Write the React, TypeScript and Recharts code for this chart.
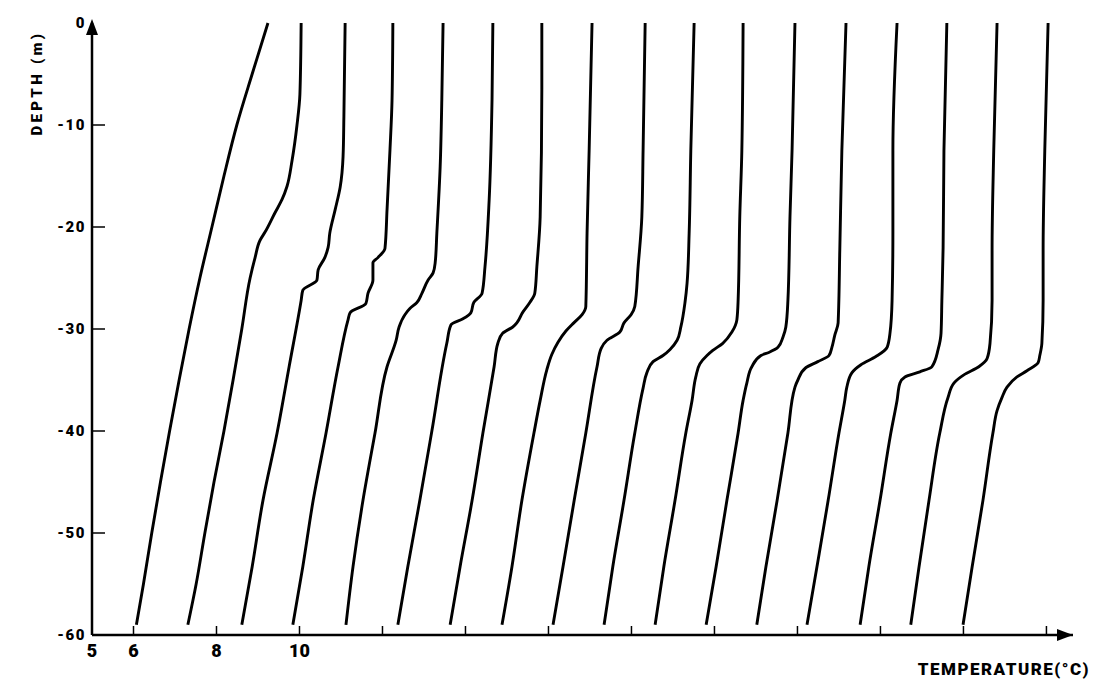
import { LineChart, Line, XAxis, YAxis, ReferenceDot } from "recharts";

// depth (m) / temperature (°C) of each profile
const d01 = [0, -5, -10, -15, -20, -25, -30, -35, -40, -45, -50, -55, -59];
const t01 = [9.24, 8.86, 8.49, 8.18, 7.89, 7.6, 7.34, 7.1, 6.87, 6.65, 6.44, 6.24, 6.07];

const d02 = [0, -7, -10, -13.5, -16, -17.3, -18.6, -20.5, -21.3, -23, -25, -30, -35, -40, -45, -50, -55, -59];
const t02 = [10.04, 10.01, 9.94, 9.82, 9.7, 9.58, 9.41, 9.17, 9.05, 8.93, 8.81, 8.61, 8.4, 8.18, 7.94, 7.72, 7.51, 7.31];

const d03 = [0, -9.2, -13.1, -16.1, -18.3, -20.6, -22, -23, -24.2, -25.2, -26.2, -27.2, -33.7, -40.2, -46.8, -53.3, -59];
const t03 = [11.1, 11.07, 11.05, 10.98, 10.86, 10.73, 10.69, 10.61, 10.45, 10.42, 10.08, 10.04, 9.75, 9.46, 9.12, 8.86, 8.61];

const d04 = [0, -7.6, -12.5, -18.3, -22.1, -23, -23.5, -25.2, -26.5, -27.5, -28.4, -29.1, -33.7, -40.2, -46.8, -53.3, -59];
const t04 = [12.25, 12.23, 12.18, 12.11, 12.06, 11.89, 11.77, 11.77, 11.65, 11.6, 11.22, 11.17, 10.93, 10.64, 10.33, 10.08, 9.84];

const d05 = [0, -7.5, -14.1, -20.6, -23.5, -24.5, -25.2, -26.5, -27.4, -28, -28.6, -29.8, -31.1, -33.7, -40.2, -46.8, -53.3, -59];
const t05 = [13.46, 13.43, 13.39, 13.31, 13.27, 13.22, 13.1, 12.95, 12.83, 12.66, 12.54, 12.4, 12.33, 12.11, 11.82, 11.53, 11.29, 11.12];

const d06 = [0, -7.5, -17.4, -23.9, -26.5, -27.4, -28.4, -29, -29.6, -31.4, -40, -46.8, -53.3, -59];
const t06 = [14.66, 14.64, 14.57, 14.47, 14.4, 14.2, 14.13, 13.94, 13.65, 13.55, 13.19, 12.9, 12.61, 12.37];

const d07 = [0, -6.5, -19, -23.9, -26.5, -27.4, -28.3, -29.8, -30.4, -31.4, -33.7, -40.2, -46.8, -53.3, -59];
const t07 = [15.84, 15.84, 15.8, 15.72, 15.67, 15.55, 15.39, 15.14, 14.9, 14.78, 14.69, 14.42, 14.16, 13.87, 13.63];

const d08 = [0, -12.5, -20.6, -27.8, -28.6, -29.4, -30.2, -31.3, -32.5, -34, -37, -40.2, -46.8, -53.3, -59];
const t08 = [17.05, 16.98, 16.93, 16.9, 16.81, 16.61, 16.42, 16.23, 16.08, 15.96, 15.8, 15.65, 15.36, 15.12, 14.88];

const d09 = [0, -12.5, -19, -23.9, -27.8, -28.6, -29.4, -30.3, -31.1, -31.9, -33.7, -40.2, -46.8, -53.3, -59];
const t09 = [18.33, 18.28, 18.25, 18.16, 18.08, 17.99, 17.82, 17.72, 17.41, 17.27, 17.17, 16.9, 16.62, 16.35, 16.11];

const d10 = [0, -12.5, -20.6, -25.5, -27.4, -29.8, -31.1, -32, -32.6, -33.2, -34.3, -35.8, -40.2, -46.8, -53.3, -59];
const t10 = [19.51, 19.43, 19.39, 19.34, 19.29, 19.19, 19.1, 18.93, 18.76, 18.52, 18.37, 18.28, 18.08, 17.82, 17.55, 17.34];

const d11 = [0, -12.5, -19, -27.2, -29.1, -30.3, -31.4, -32.1, -32.6, -33.4, -34.7, -37, -40.2, -46.8, -53.3, -59];
const t11 = [20.69, 20.66, 20.61, 20.57, 20.54, 20.42, 20.2, 19.96, 19.82, 19.65, 19.55, 19.46, 19.31, 19.05, 18.78, 18.57];

const d12 = [0, -12.5, -19, -27.2, -29.8, -30.8, -31.8, -32.3, -32.6, -33.7, -35.3, -37, -40.2, -46.8, -53.3, -59];
const t12 = [21.94, 21.87, 21.82, 21.77, 21.72, 21.65, 21.53, 21.31, 21.12, 20.9, 20.78, 20.69, 20.57, 20.3, 20.04, 19.8];

const d13 = [0, -12.5, -22.3, -29.4, -30.6, -31.8, -32.6, -33.2, -33.8, -35, -35.7, -40.2, -46.8, -53.3, -59];
const t13 = [23.17, 23.07, 23.02, 22.98, 22.9, 22.83, 22.76, 22.49, 22.2, 22.01, 21.94, 21.77, 21.51, 21.24, 21.02];

const d14 = [0, -12.5, -20.6, -27.2, -30.4, -31.8, -32.7, -33.5, -34.3, -35.7, -37, -40.2, -46.8, -53.3, -59];
const t14 = [24.4, 24.3, 24.3, 24.28, 24.23, 24.16, 23.89, 23.53, 23.31, 23.19, 23.14, 23.0, 22.74, 22.47, 22.23];

const d15 = [0, -12.5, -22, -27.2, -30.4, -32, -33.7, -34.2, -34.7, -35.3, -37, -40.2, -46.8, -53.3, -59];
const t15 = [25.6, 25.53, 25.51, 25.48, 25.46, 25.39, 25.24, 24.95, 24.59, 24.47, 24.4, 24.25, 23.99, 23.72, 23.51];

const d16 = [0, -12.5, -22.3, -27.2, -31.4, -32.9, -33.7, -34.5, -35.3, -36.7, -40.2, -46.8, -53.3, -59];
const t16 = [26.81, 26.73, 26.69, 26.69, 26.64, 26.57, 26.37, 26.01, 25.77, 25.63, 25.43, 25.17, 24.93, 24.73];

const d17 = [0, -12.5, -22.3, -27.2, -31.4, -32.6, -33.3, -34.1, -34.7, -35.7, -36.7, -38, -40.2, -46.8, -53.3, -59];
const t17 = [28.04, 27.96, 27.92, 27.92, 27.89, 27.84, 27.8, 27.53, 27.29, 27.05, 26.93, 26.81, 26.71, 26.47, 26.21, 25.99];

const xTicks = [5, 6, 8, 10, 12, 14, 16, 18, 20, 22, 24, 26, 28];
const xLabels = [5, 6, 8, 10];
const yTicks = [0, -10, -20, -30, -40, -50, -60];
const X_MIN = 5;
const X_MAX = 28.64;

const pairs: [number[], number[]][] = [
  [t01, d01], [t02, d02], [t03, d03], [t04, d04], [t05, d05], [t06, d06],
  [t07, d07], [t08, d08], [t09, d09], [t10, d10], [t11, d11], [t12, d12],
  [t13, d13], [t14, d14], [t15, d15], [t16, d16], [t17, d17],
];

const profiles = pairs.map(([t, d]) => t.map((temp, i) => ({ temp, depth: d[i] })));

const FONT = "Roboto, 'DejaVu Sans', sans-serif";

function XTick(props: any) {
  const { x, y, payload } = props;
  const axisY = y - 8;
  const v = payload.value;
  return (
    <g>
      {v !== X_MIN && (
        <line x1={x} x2={x} y1={axisY} y2={axisY - 9} stroke="#000" strokeWidth={1.5} />
      )}
      {xLabels.includes(v) && (
        <text x={x} y={y} dy={14} textAnchor="middle" fontFamily={FONT} fontWeight={900} fontSize={18} fill="#000">
          {v}
        </text>
      )}
    </g>
  );
}

function YTick(props: any) {
  const { x, y, payload } = props;
  const axisX = x + 6;
  const v = payload.value;
  return (
    <g>
      {v !== 0 && v !== -60 && (
        <line x1={axisX} x2={axisX + 13} y1={y} y2={y} stroke="#000" strokeWidth={1.5} />
      )}
      <text x={x} y={y} dy={5} textAnchor="end" fontFamily={FONT} fontWeight={900} fontSize={15} letterSpacing={1.5} fill="#000">
        {v === 0 ? "0" : `-${Math.abs(v)}`}
      </text>
    </g>
  );
}

const ArrowRight = (p: any) => (
  <path d={`M${p.cx},${p.cy} L${p.cx - 16},${p.cy - 6} L${p.cx - 16},${p.cy + 6} Z`} fill="#000" />
);

const ArrowUp = (p: any) => (
  <path d={`M${p.cx},${p.cy - 4} L${p.cx - 6},${p.cy + 12} L${p.cx + 6},${p.cy + 12} Z`} fill="#000" />
);

export default function App() {
  return (
    <div style={{ position: "absolute", left: 0, top: 0, width: 1105, height: 688, background: "#fff" }}>
      <LineChart width={1105} height={688} margin={{ top: 23, right: 32, bottom: 23, left: 52 }}>
        <XAxis
          type="number"
          dataKey="temp"
          domain={[X_MIN, X_MAX]}
          ticks={xTicks}
          interval={0}
          allowDataOverflow
          tickSize={0}
          tickMargin={8}
          height={30}
          axisLine={{ stroke: "#000", strokeWidth: 2.5 }}
          tickLine={false}
          tick={<XTick />}
        />
        <YAxis
          type="number"
          domain={[-60, 0]}
          ticks={yTicks}
          interval={0}
          tickSize={0}
          tickMargin={6}
          width={40}
          axisLine={{ stroke: "#000", strokeWidth: 2.5 }}
          tickLine={false}
          tick={<YTick />}
        />
        {profiles.map((pts, i) => (
          <Line
            key={i}
            data={pts}
            dataKey="depth"
            type="monotoneY"
            stroke="#000"
            strokeWidth={2.9}
            dot={false}
            activeDot={false}
            isAnimationActive={false}
          />
        ))}
        <ReferenceDot x={X_MAX} y={-60} r={0} ifOverflow="visible" shape={ArrowRight} />
        <ReferenceDot x={X_MIN} y={0} r={0} ifOverflow="visible" shape={ArrowUp} />
      </LineChart>
      <div
        style={{
          position: "absolute",
          left: 37,
          top: 83,
          transform: "translate(-50%, -50%) rotate(-90deg)",
          whiteSpace: "nowrap",
          fontFamily: FONT,
          fontWeight: 900,
          fontSize: 15,
          letterSpacing: 3.3,
          lineHeight: 1,
        }}
      >
        DEPTH (m)
      </div>
      <div
        style={{
          position: "absolute",
          right: 1105 - 1090,
          top: 661,
          whiteSpace: "nowrap",
          fontFamily: FONT,
          fontWeight: 900,
          fontSize: 17,
          letterSpacing: 1.5,
          lineHeight: 1,
        }}
      >
        TEMPERATURE(°C)
      </div>
    </div>
  );
}
